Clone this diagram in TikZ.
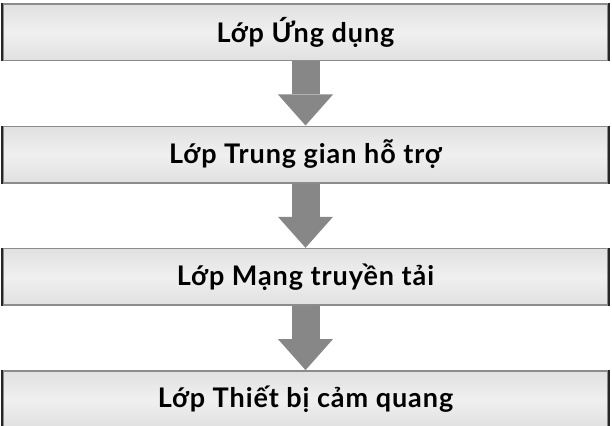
\documentclass[tikz,border=0pt]{standalone}
\usepackage{fontspec}
\setmainfont{Lato}[LetterSpace=3.5]
\usetikzlibrary{positioning,arrows.meta}

\tikzset{
  layer/.style={draw=black!45, line width=1.6pt, top color=black!12,
    bottom color=black!12, middle color=black!6, minimum width=605pt,
    minimum height=56.5pt, inner sep=0pt, font=\bfseries\fontsize{27}{30}\selectfont},
  flow/.style={line width=28pt, black!47, -{Triangle[width=55pt,length=31pt,line width=0pt]}}
}

\begin{document}
\begin{tikzpicture}[node distance=64.2pt]

    \useasboundingbox (0,0) rectangle (612pt,-425pt); % frame of the page

    \node[layer] (ungdung) at (305.5pt,-32.25pt) {Lớp Ứng dụng};
    \node[layer, below=of ungdung] (trunggian) {Lớp Trung gian hỗ trợ};
    \node[layer, below=of trunggian] (mang) {Lớp Mạng truyền tải};
    \node[layer, below=of mang] (thietbi) {Lớp Thiết bị cảm quang};

    % darker left and right edges
    \foreach \n in {ungdung,trunggian,mang,thietbi} {
      \draw[line width=1.6pt, black!85] (\n.north west) -- (\n.south west);
      \draw[line width=1.6pt, black!85] (\n.north east) -- (\n.south east);
    }

    \draw[flow] (ungdung) -- (trunggian);
    \draw[flow] (trunggian) -- (mang);
    \draw[flow] (mang) -- (thietbi);

\end{tikzpicture}
\end{document}
